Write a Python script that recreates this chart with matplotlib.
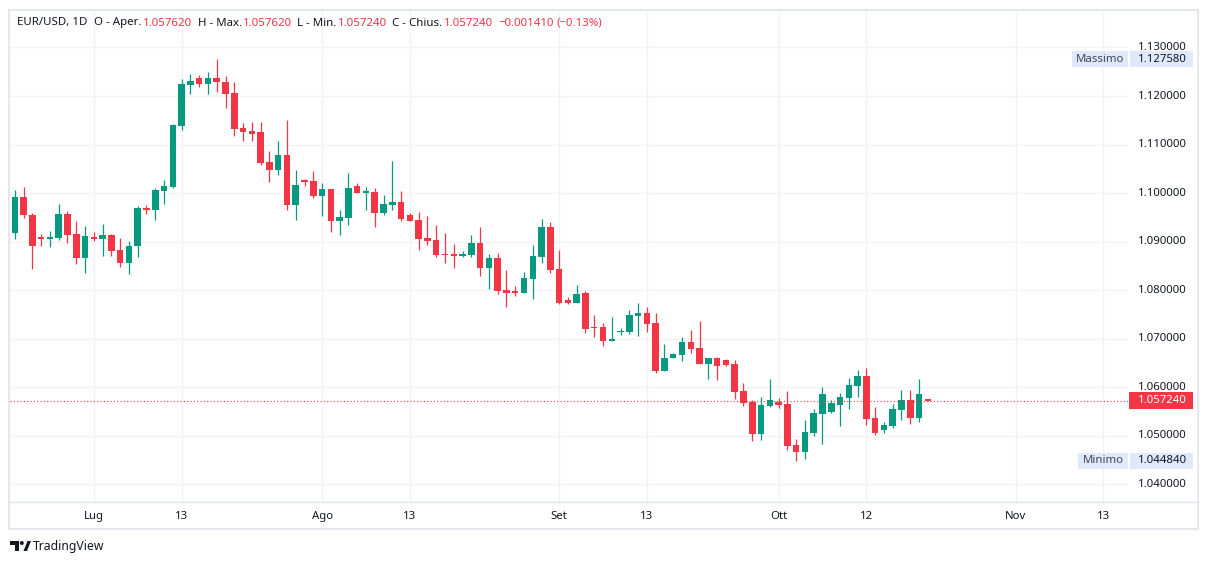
import numpy as np
import matplotlib
matplotlib.use("Agg")
import matplotlib.pyplot as plt
import matplotlib.transforms as mtransforms
from matplotlib.patches import Rectangle, Polygon, Circle
from matplotlib.lines import Line2D

plt.rcParams['font.family'] = ['Noto Sans', 'DejaVu Sans']

# daily bars EUR/USD (Sunday bars included, as on the source chart)
opens = [1.0918, 1.0992, 1.0955, 1.0910, 1.0906, 1.0908, 1.0957, 1.0916, 1.0867, 1.0910,
         1.0906, 1.0914, 1.0883, 1.0855, 1.0890, 1.0970, 1.0966, 1.1005, 1.1013, 1.1139,
         1.1223, 1.1237, 1.1225, 1.1237, 1.1229, 1.1206, 1.1134, 1.1128, 1.1126, 1.1064,
         1.1048, 1.1079, 1.0976, 1.1026, 1.1025, 1.0995, 1.1008, 1.0943, 1.0949, 1.1015,
         1.1001, 1.1002, 1.0958, 1.0976, 1.0982, 1.0955, 1.0945, 1.0908, 1.0903, 1.0875,
         1.0875, 1.0871, 1.0873, 1.0897, 1.0846, 1.0866, 1.0800, 1.0799, 1.0795, 1.0824,
         1.0869, 1.0930, 1.0844, 1.0780, 1.0774, 1.0795, 1.0724, 1.0724, 1.0696, 1.0714,
         1.0714, 1.0747, 1.0753, 1.0732, 1.0633, 1.0660, 1.0666, 1.0693, 1.0681, 1.0648,
         1.0660, 1.0656, 1.0648, 1.0592, 1.0570, 1.0504, 1.0561, 1.0570, 1.0566, 1.0481,
         1.0467, 1.0506, 1.0545, 1.0549, 1.0563, 1.0578, 1.0603, 1.0623, 1.0537, 1.0512,
         1.0520, 1.0553, 1.0574, 1.0537, 1.05762]
highs = [1.1006, 1.1013, 1.0958, 1.0916, 1.0922, 1.0978, 1.0963, 1.0943, 1.0932, 1.0920,
         1.0936, 1.0916, 1.0908, 1.0902, 1.0973, 1.0976, 1.1011, 1.1027, 1.1142, 1.1235,
         1.1245, 1.1243, 1.1250, 1.12758, 1.1241, 1.1229, 1.1144, 1.1147, 1.1147, 1.1087,
         1.1107, 1.1151, 1.1048, 1.1029, 1.1046, 1.1021, 1.1008, 1.0965, 1.1041, 1.1021,
         1.1013, 1.1011, 1.0996, 1.1066, 1.1004, 1.0958, 1.0961, 1.0953, 1.0934, 1.0918,
         1.0895, 1.0880, 1.0914, 1.0930, 1.0875, 1.0877, 1.0842, 1.0809, 1.0838, 1.0894,
         1.0947, 1.0940, 1.0883, 1.0785, 1.0811, 1.0799, 1.0749, 1.0732, 1.0745, 1.0722,
         1.0759, 1.0774, 1.0765, 1.0753, 1.0689, 1.0671, 1.0704, 1.0718, 1.0736, 1.0660,
         1.0662, 1.0658, 1.0656, 1.0609, 1.0574, 1.0580, 1.0617, 1.0578, 1.0592, 1.0493,
         1.0533, 1.0555, 1.0601, 1.0574, 1.0588, 1.0619, 1.0636, 1.0640, 1.0559, 1.0528,
         1.0566, 1.0594, 1.0594, 1.0617, 1.05762]
lows = [1.0906, 1.0949, 1.0844, 1.0892, 1.0888, 1.0904, 1.0897, 1.0854, 1.0835, 1.0902,
        1.0871, 1.0871, 1.0848, 1.0833, 1.0869, 1.0956, 1.0945, 1.0978, 1.1011, 1.1131,
        1.1205, 1.1219, 1.1205, 1.1209, 1.1175, 1.1118, 1.1108, 1.1108, 1.1058, 1.1022,
        1.1038, 1.0966, 1.0945, 1.1015, 1.0990, 1.0953, 1.0919, 1.0914, 1.0935, 1.1000,
        1.0965, 1.0930, 1.0955, 1.0966, 1.0943, 1.0943, 1.0883, 1.0894, 1.0869, 1.0855,
        1.0846, 1.0869, 1.0869, 1.0830, 1.0803, 1.0793, 1.0766, 1.0789, 1.0795, 1.0782,
        1.0857, 1.0836, 1.0772, 1.0772, 1.0774, 1.0712, 1.0704, 1.0685, 1.0696, 1.0708,
        1.0710, 1.0706, 1.0714, 1.0629, 1.0633, 1.0660, 1.0654, 1.0671, 1.0648, 1.0617,
        1.0615, 1.0644, 1.0576, 1.0561, 1.0489, 1.0491, 1.0559, 1.0557, 1.0471, 1.04484,
        1.0452, 1.0500, 1.0483, 1.0547, 1.0520, 1.0555, 1.0580, 1.0522, 1.0502, 1.0506,
        1.0516, 1.0533, 1.0524, 1.0528, 1.05724]
closes = [1.0992, 1.0954, 1.0892, 1.0906, 1.0910, 1.0957, 1.0914, 1.0867, 1.0912, 1.0906,
          1.0914, 1.0881, 1.0855, 1.0892, 1.0970, 1.0966, 1.1006, 1.1015, 1.1140, 1.1225,
          1.1230, 1.1225, 1.1237, 1.1228, 1.1205, 1.1133, 1.1125, 1.1122, 1.1063, 1.1048,
          1.1079, 1.0976, 1.1017, 1.1023, 1.0995, 1.1008, 1.0943, 1.0951, 1.1011, 1.1000,
          1.1004, 1.0958, 1.0978, 1.0982, 1.0947, 1.0943, 1.0906, 1.0902, 1.0873, 1.0873,
          1.0871, 1.0875, 1.0897, 1.0846, 1.0866, 1.0799, 1.0795, 1.0795, 1.0825, 1.0870,
          1.0930, 1.0842, 1.0774, 1.0774, 1.0792, 1.0720, 1.0722, 1.0696, 1.0700, 1.0716,
          1.0749, 1.0753, 1.0730, 1.0633, 1.0660, 1.0669, 1.0693, 1.0679, 1.0648, 1.0660,
          1.0644, 1.0646, 1.0591, 1.0568, 1.0504, 1.0563, 1.0574, 1.0563, 1.0479, 1.0467,
          1.0508, 1.0547, 1.0586, 1.0568, 1.0580, 1.0605, 1.0623, 1.0535, 1.0506, 1.0522,
          1.0555, 1.0574, 1.0537, 1.05865, 1.05724]

tick_pos = [9, 19, 35, 45, 62, 72, 87, 97, 114, 124]
tick_labels = ["Lug", "13", "Ago", "13", "Set", "13", "Ott", "12", "Nov", "13"]
price_ticks = [1.04, 1.05, 1.06, 1.07, 1.08, 1.09, 1.10, 1.11, 1.12, 1.13]

period_high = 1.12758
period_low = 1.04484

UP = "#089981"
DOWN = "#f23645"
TXT = "#131722"
GRID = "#f2f3f6"

W, H = 1209, 564
fig = plt.figure(figsize=(W / 100, H / 100), dpi=100)
fig.patch.set_facecolor("white")
ax = fig.add_axes([10 / W, 1 - 502 / H, 1118 / W, 492 / H])
ax.set_facecolor("white")

x = np.arange(len(opens))
o = np.array(opens)
c = np.array(closes)
colors = [UP if cc >= oo else DOWN for oo, cc in zip(o, c)]

ax.vlines(x, lows, highs, colors=colors, lw=0.9, zorder=2)
ax.bar(x, np.maximum(np.abs(c - o), 0.00022), bottom=np.minimum(o, c),
       width=0.74, color=colors, linewidth=0, zorder=3)

ax.set_xlim(-0.547, 126.8)
ax.set_ylim(1.03636, 1.13772)

ax.set_xticks(tick_pos)
ax.set_xticklabels(tick_labels)
ax.set_yticks(price_ticks)
ax.grid(True, color=GRID, lw=1)
ax.set_axisbelow(True)
for s in ax.spines.values():
    s.set_visible(False)
ax.tick_params(axis="x", length=0, pad=6.5, labelsize=8.2, colors=TXT)
ax.tick_params(axis="y", length=0, left=False, labelleft=False)

# last price dotted line
last = closes[-1]
ax.axhline(last, color=DOWN, lw=0.8, linestyle=(0, (1, 2)), zorder=4)

ident = mtransforms.IdentityTransform()
blend = mtransforms.blended_transform_factory(ident, ax.transData)

for p in price_ticks:
    ax.text(1187, p, f"{p:.6f}", transform=blend, ha="right", va="center",
            fontsize=8.2, color=TXT)


def py(p):
    return ax.transData.transform((0, p))[1]


# high / low labels
BOX = "#deeafc"
for name, val, left in [("Massimo", period_high, 1072), ("Minimo", period_low, 1078)]:
    yc = py(val)
    fig.add_artist(Rectangle((left, yc - 8), 1128 - left, 16, transform=ident,
                             facecolor=BOX, edgecolor="none"))
    fig.add_artist(Rectangle((1130, yc - 8), 63, 16, transform=ident,
                             facecolor=BOX, edgecolor="none"))
    fig.text((left + 1128) / 2, yc, name, transform=ident, ha="center", va="center",
             fontsize=8.2, color="#434651")
    fig.text(1187, yc, f"{val:.6f}", transform=ident, ha="right", va="center",
             fontsize=8.2, color=TXT)

# current price label
yc = py(last)
fig.add_artist(Rectangle((1129, yc - 8.5), 64, 17, transform=ident,
                         facecolor=DOWN, edgecolor="none"))
fig.text(1187, yc, f"{last:.6f}", transform=ident, ha="right", va="center",
         fontsize=8.2, color="white", fontweight="bold")

# pane borders
fig.add_artist(Rectangle((9, H - 529), 1189, 519, transform=ident, fill=False,
                         edgecolor="#e0e3eb", lw=1.2))
fig.add_artist(Line2D([9, 1198], [H - 502, H - 502], transform=ident,
                      color="#e0e3eb", lw=1.0))

# header legend
chg = closes[-1] - closes[-2]
pct = chg / closes[-2] * 100
header = [
    ("EUR/USD, 1D", TXT, 7),
    ("O - Aper.", TXT, 1),
    (f"{opens[-1]:.6f}", DOWN, 5.5),
    ("H - Max.", TXT, 1),
    (f"{highs[-1]:.6f}", DOWN, 5.5),
    ("L - Min.", TXT, 1),
    (f"{lows[-1]:.6f}", DOWN, 5.5),
    ("C - Chius.", TXT, 1),
    (f"{closes[-1]:.6f}", DOWN, 6),
    (f"\u2212{abs(chg):.6f}", DOWN, 2.5),
    (f"(\u2212{abs(pct):.2f}%)", DOWN, 0),
]
renderer = fig.canvas.get_renderer()
xp = 17
for s, col, gap in header:
    t = fig.text(xp, H - 23, s, transform=ident, ha="left", va="center",
                 fontsize=8.25, color=col)
    xp = t.get_window_extent(renderer).x1 + gap

# TradingView logo
fig.add_artist(Polygon([(10, H - 541), (19, H - 541), (19, H - 551), (15, H - 551),
                        (15, H - 545), (10, H - 545)], closed=True, transform=ident,
                       facecolor=TXT, edgecolor="none"))
fig.add_artist(Circle((21.8, H - 543), 2.0, transform=ident, facecolor=TXT, edgecolor="none"))
fig.add_artist(Polygon([(23.5, H - 551), (27.5, H - 541), (31, H - 541), (27, H - 551)],
                       closed=True, transform=ident, facecolor=TXT, edgecolor="none"))
fig.text(33, H - 546.5, "TradingView", transform=ident, ha="left", va="center",
         fontsize=8.8, color=TXT)

fig.savefig("out.png", dpi=100, facecolor="white")
